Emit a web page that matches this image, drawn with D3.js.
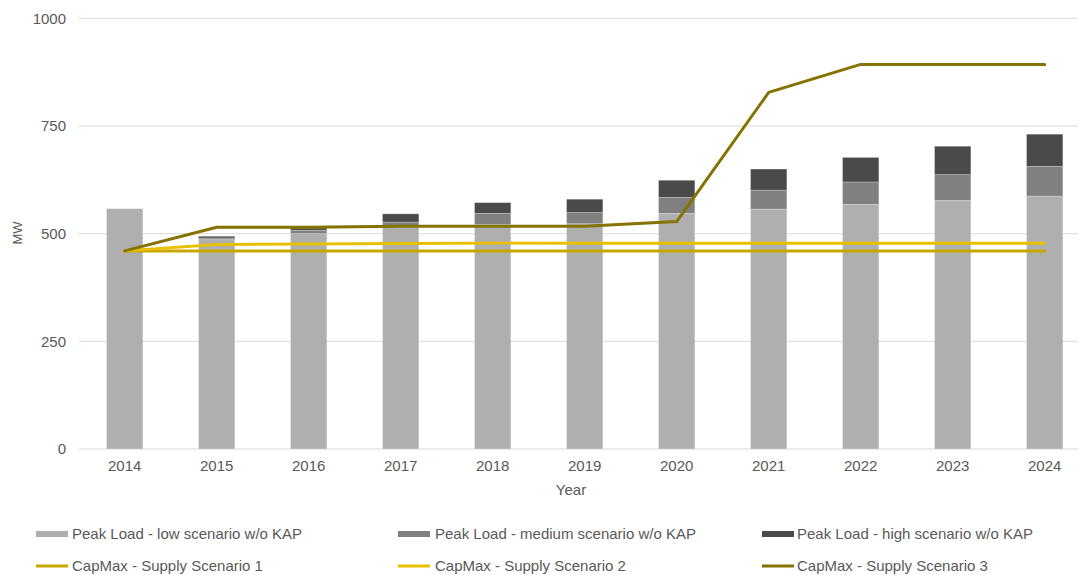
<!DOCTYPE html>
<html>
<head>
<meta charset="utf-8">
<script src="https://cdn.jsdelivr.net/npm/d3@7/dist/d3.min.js"></script>
<style>
  html, body { margin: 0; padding: 0; background: #fff; }
  svg { display: block; font-family: "Liberation Sans", Arial, sans-serif; }
</style>
</head>
<body>
<svg id="chart" width="1078" height="575"></svg>
<script>
// ---- Data ----
const years = ["2014","2015","2016","2017","2018","2019","2020","2021","2022","2023","2024"];
// Stacked totals (cumulative top of each layer)
const peakLow    = [558, 486, 500, 515, 521, 523, 547, 557, 568, 577, 587];
const peakMedTop = [558, 490, 508, 527, 547, 549, 584, 601, 620, 637, 656];
const peakHighTop= [558, 494, 513, 546, 572, 580, 624, 650, 677, 703, 731];
const supply1 = [460, 460, 460, 460, 460, 460, 460, 460, 460, 460, 460];
const supply2 = [460, 475, 476, 477, 478, 478, 478, 478, 478, 478, 478];
const supply3 = [460, 515, 515, 517, 517, 517, 528, 828, 893, 893, 893];
const yTicks = [0, 250, 500, 750, 1000];

const barSeries = [
  { name: "Peak Load - low scenario w/o KAP",    color: "#afafaf", base: years.map(() => 0), top: peakLow },
  { name: "Peak Load - medium scenario w/o KAP", color: "#808080", base: peakLow, top: peakMedTop },
  { name: "Peak Load - high scenario w/o KAP",   color: "#4a4a4a", base: peakMedTop, top: peakHighTop }
];
const lineSeries = [
  { name: "CapMax - Supply Scenario 1", color: "#c9a600", values: supply1 },
  { name: "CapMax - Supply Scenario 2", color: "#e8c000", values: supply2 },
  { name: "CapMax - Supply Scenario 3", color: "#857200", values: supply3 }
];

// ---- Layout ----
const svg = d3.select("#chart");
const pLeft = 78.7, pRight = 1090.7, pTop = 18.3, pBottom = 449;
const FS = "15px";

const x = d3.scaleBand().domain(years).range([pLeft, pRight]).paddingInner(0.605).paddingOuter(0.3025);
const y = d3.scaleLinear().domain([0, 1000]).range([pBottom, pTop]);

// gridlines
svg.append("g")
  .selectAll("line").data(yTicks).join("line")
  .attr("x1", pLeft).attr("x2", 1078)
  .attr("y1", d => y(d)).attr("y2", d => y(d))
  .attr("stroke", "#d9d9d9").attr("stroke-width", 1);

// y axis labels
const yAxis = d3.axisLeft(y).tickValues(yTicks).tickSize(0).tickPadding(0).tickFormat(d3.format("d"));
const gy = svg.append("g").attr("transform", `translate(${66},0)`).call(yAxis);
gy.select(".domain").remove();
gy.selectAll("text").attr("fill", "#595959").style("font-size", FS).style("font-family", "Liberation Sans, Arial, sans-serif");

// x axis labels
const xAxis = d3.axisBottom(x).tickSize(0).tickPadding(0);
const gx = svg.append("g").attr("transform", `translate(0,${460})`).call(xAxis);
gx.select(".domain").remove();
gx.selectAll("text").attr("fill", "#595959").style("font-size", FS).style("font-family", "Liberation Sans, Arial, sans-serif");

// axis titles
svg.append("text").attr("x", 571).attr("y", 490).attr("dy", "0.35em").attr("text-anchor", "middle")
  .attr("fill", "#595959").style("font-size", FS).text("Year");
svg.append("text").attr("transform", `translate(22,${233}) rotate(-90)`).attr("text-anchor", "middle")
  .attr("fill", "#595959").style("font-size", "13px").text("MW");

// bars
barSeries.forEach(s => {
  svg.append("g").selectAll("rect").data(years).join("rect")
    .attr("x", d => x(d))
    .attr("width", x.bandwidth())
    .attr("y", (d, i) => y(s.top[i]))
    .attr("height", (d, i) => Math.max(0, y(s.base[i]) - y(s.top[i])))
    .attr("fill", s.color)
    .attr("stroke", "#ffffff").attr("stroke-opacity", 0.35).attr("stroke-width", 0.75);
});

// lines
const line = d3.line().x((d, i) => x(years[i]) + x.bandwidth() / 2).y(d => y(d));
lineSeries.forEach(s => {
  svg.append("path").datum(s.values)
    .attr("d", line)
    .attr("fill", "none").attr("stroke", s.color).attr("stroke-width", 3)
    .attr("stroke-linejoin", "round").attr("stroke-linecap", "round");
});

// legend
const legendCols = [{sx: 36, tx: 72}, {sx: 398, tx: 435}, {sx: 762, tx: 797}];
const legendRows = [534, 566];
barSeries.forEach((s, i) => {
  const c = legendCols[i];
  svg.append("rect").attr("x", c.sx).attr("y", legendRows[0] - 3).attr("width", 32).attr("height", 6).attr("fill", s.color);
  svg.append("text").attr("x", c.tx).attr("y", legendRows[0]).attr("dy", "0.35em")
    .attr("fill", "#595959").style("font-size", FS).text(s.name);
});
lineSeries.forEach((s, i) => {
  const c = legendCols[i];
  svg.append("line").attr("x1", c.sx).attr("x2", c.sx + 32).attr("y1", legendRows[1]).attr("y2", legendRows[1])
    .attr("stroke", s.color).attr("stroke-width", 3);
  svg.append("text").attr("x", c.tx).attr("y", legendRows[1]).attr("dy", "0.35em")
    .attr("fill", "#595959").style("font-size", FS).text(s.name);
});
</script>
</body>
</html>
